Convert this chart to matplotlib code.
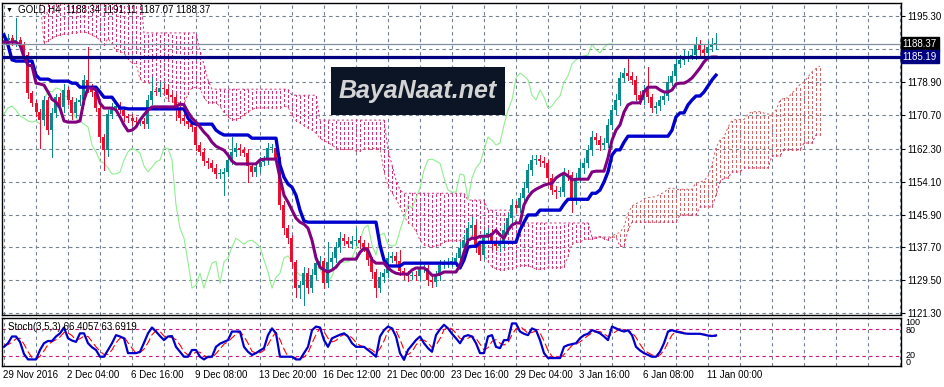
import matplotlib
matplotlib.use("Agg")
import matplotlib.pyplot as plt
import matplotlib.transforms as mtransforms
from matplotlib.patches import Rectangle
import numpy as np

plt.rcParams['font.family'] = ['Liberation Sans', 'DejaVu Sans']

# ---- candles (GOLD H4) ----
first_open = 1189.0
close = [
    1189.3, 1189.8, 1188.8, 1189.3, 1188.3, 1185.6, 1176.1, 1173.6, 1171.4, 1169.4,
    1174.4, 1166.9, 1171.2, 1175.1, 1172.7, 1176.9, 1174.4, 1171.2, 1173.9, 1174.4,
    1179.4, 1177.4, 1176.4, 1172.4, 1165.2, 1161.9,
    1170.9, 1172.4, 1172.9, 1171.9, 1170.4, 1169.9, 1169.2, 1168.9, 1169.2, 1168.4,
    1174.4, 1176.6, 1176.4, 1177.4, 1177.1, 1175.6, 1175.1, 1171.9, 1169.9, 1169.2,
    1168.4, 1167.7, 1163.2, 1161.5, 1159.2, 1158.7, 1157.5, 1156.0, 1156.0, 1156.5,
    1159.5, 1161.5, 1162.4, 1161.9, 1161.2, 1158.0, 1156.5, 1157.7, 1159.0, 1159.5,
    1162.4, 1162.4, 1159.5, 1148.3, 1142.5, 1140.0, 1134.1, 1127.6, 1128.3, 1131.3,
    1127.6, 1130.8, 1133.8, 1134.3, 1128.8, 1134.1, 1135.1, 1137.8, 1140.0, 1139.3,
    1138.5, 1139.3, 1139.5, 1138.8, 1137.8, 1134.6, 1131.6, 1127.6, 1130.3, 1131.3,
    1135.1, 1135.6, 1134.3, 1131.8, 1130.8, 1130.6, 1130.8, 1130.6, 1132.6, 1132.6,
    1129.6, 1129.1, 1130.6, 1133.3, 1133.8, 1134.1, 1134.1, 1135.1, 1137.5, 1139.5,
    1142.5, 1143.3, 1138.3, 1135.8, 1140.8, 1141.3, 1138.5, 1138.0, 1138.5, 1142.0,
    1145.0, 1148.3, 1147.5, 1150.0, 1152.5, 1157.0, 1159.5, 1159.7, 1159.2, 1158.7,
    1155.0, 1152.0, 1151.5, 1151.5, 1156.0, 1155.7, 1149.5, 1155.0, 1157.5, 1158.7,
    1161.9, 1165.2, 1164.4, 1163.2, 1163.7, 1168.2, 1171.9, 1174.4, 1179.9, 1181.1,
    1180.4, 1179.4, 1175.6, 1174.4, 1176.9, 1175.1, 1172.4, 1172.9, 1174.4, 1175.4,
    1178.9, 1180.4, 1183.4, 1184.4, 1185.1, 1185.4, 1185.6, 1188.3, 1186.9, 1186.1,
    1187.6, 1188.3, 1188.37,
]
upper_wick = [
    0.8, 1.0, 0.7, 5.5, 0.9, 0.6, 0.8, 0.5, 0.9, 0.7,
    1.0, 0.8, 1.2, 0.9, 1.1, 1.5, 0.8, 0.7, 1.0, 1.3,
    1.2, 8.2, 1.0, 0.8, 0.9, 0.7, 1.1, 1.3, 0.9, 1.0,
    0.8, 0.6, 1.0, 0.9, 0.7, 0.8, 1.2, 3.5, 1.0, 1.4,
    0.9, 1.1, 0.8, 0.7, 0.9, 1.0, 0.8, 0.6, 0.9, 0.7,
    1.0, 0.8, 0.7, 0.9, 1.2, 1.0, 1.5, 3.7, 1.3, 1.0,
    0.9, 1.1, 0.8, 1.0, 1.2, 0.9, 1.4, 1.0, 0.8, 0.6,
    0.9, 0.7, 0.8, 0.6, 1.0, 1.5, 1.2, 1.6, 1.1, 1.3,
    0.9, 5.0, 1.4, 1.2, 1.5, 1.0, 0.9, 1.3, 3.0, 1.0,
    0.8, 0.9, 0.7, 0.8, 1.2, 1.0, 1.4, 1.1, 0.9, 2.7,
    0.8, 1.0, 0.9, 1.1, 1.3, 0.8, 0.7, 1.0, 1.2, 1.4,
    0.9, 1.0, 1.2, 1.3, 1.5, 1.4, 1.6, 2.0, 0.9, 1.0,
    1.3, 1.2, 0.9, 1.0, 1.1, 1.4, 1.3, 1.5, 1.0, 1.2,
    1.4, 1.6, 1.2, 1.0, 1.1, 0.9, 0.8, 1.0, 0.9, 1.2,
    1.4, 1.1, 0.9, 1.3, 1.5, 1.2, 1.4, 1.6, 1.0, 1.1,
    1.2, 1.5, 1.3, 1.4, 1.6, 1.2, 3.8, 1.0, 0.9, 1.1,
    1.2, 5.7, 0.9, 1.0, 1.1, 1.3, 1.4, 1.2, 1.5, 1.3,
    1.7, 1.2, 1.4, 1.8, 1.0, 1.2, 1.5, 1.6, 2.7,
]
lower_wick = [
    0.7, 0.9, 0.8, 1.0, 0.6, 0.9, 1.2, 0.8, 1.0, 7.0,
    1.1, 0.9, 6.7, 1.0, 0.8, 1.2, 0.9, 1.4, 1.0, 0.8,
    1.0, 0.9, 1.1, 0.8, 1.3, 4.9, 1.5, 1.0, 0.9, 0.8,
    1.1, 0.9, 1.0, 1.2, 0.8, 1.0, 0.9, 1.1, 0.8, 1.0,
    0.9, 0.8, 1.0, 2.5, 1.2, 0.9, 1.0, 1.1, 1.3, 0.9,
    1.0, 1.2, 0.8, 1.0, 0.9, 5.3, 1.1, 0.9, 1.0, 1.2,
    0.8, 4.0, 1.0, 0.9, 1.1, 0.8, 1.0, 0.9, 1.2, 1.0,
    1.5, 1.3, 1.6, 2.2, 2.5, 4.9, 1.2, 1.0, 0.9, 1.1,
    1.3, 1.0, 1.2, 0.9, 1.1, 1.0, 0.8, 0.9, 1.0, 1.2,
    1.0, 1.3, 1.5, 2.2, 1.0, 1.2, 0.9, 1.0, 1.1, 0.9,
    1.0, 1.2, 0.8, 1.0, 0.9, 1.1, 1.3, 1.2, 0.9, 1.0,
    0.8, 1.0, 0.9, 1.1, 1.0, 1.2, 1.0, 1.4, 1.6, 1.3,
    1.0, 0.9, 1.1, 1.0, 1.2, 0.8, 1.0, 0.9, 1.1, 1.0,
    0.9, 1.0, 1.2, 1.1, 1.3, 1.0, 1.2, 1.1, 1.4, 1.0,
    0.9, 1.1, 3.0, 1.0, 0.9, 1.2, 1.0, 1.1, 0.9, 1.3,
    1.0, 0.9, 1.1, 1.0, 1.2, 0.9, 1.0, 1.1, 1.3, 1.0,
    0.9, 1.1, 1.0, 1.2, 0.9, 1.0, 1.1, 0.8, 1.0, 0.9,
    1.0, 1.1, 0.9, 1.0, 1.2, 0.9, 1.0, 1.1, 1.3,
]

# ---- Ichimoku ----
tenkan = [
    1188.8, 1188.8, 1188.8, 1188.8, 1188.1, 1185.1, 1183.1, 1182.9, 1178.6, 1178.4,
    1178.1, 1176.4, 1174.6, 1173.9, 1172.4, 1169.2, 1168.9, 1168.9, 1168.9, 1169.2,
    1174.4, 1177.4, 1177.4, 1176.9, 1173.6, 1172.4, 1172.4, 1172.4, 1171.9, 1170.2,
    1168.2, 1166.7, 1166.9, 1167.7, 1169.4, 1170.7, 1171.9, 1172.7, 1172.7, 1172.7,
    1172.7, 1172.7, 1172.7, 1172.7, 1173.4, 1173.2, 1171.4, 1169.9, 1168.9, 1167.7,
    1166.4, 1165.4, 1163.9, 1162.9, 1162.4, 1161.9, 1160.7, 1159.2, 1158.5, 1158.5,
    1158.5, 1158.5, 1158.5, 1158.5, 1159.5, 1159.7, 1159.7, 1159.7, 1159.7, 1155.0,
    1150.7, 1149.0, 1147.0, 1145.0, 1144.0, 1143.5, 1142.5, 1139.5, 1135.1, 1132.8,
    1132.1, 1131.6, 1132.1, 1132.8, 1134.1, 1134.8, 1134.8, 1134.8, 1134.8, 1136.5,
    1137.5, 1137.0, 1134.6, 1133.8, 1133.8, 1133.8, 1132.6, 1131.8, 1131.3, 1131.1,
    1131.1, 1131.1, 1132.1, 1132.6, 1132.6, 1132.6, 1131.8, 1130.8, 1130.8, 1131.1,
    1131.6, 1131.6, 1131.6, 1131.6, 1133.3, 1136.5, 1139.5, 1140.0, 1140.0, 1140.5,
    1140.5, 1140.5, 1141.0, 1142.0, 1140.8, 1140.0, 1142.0, 1143.3, 1143.8, 1143.8,
    1148.3, 1150.2, 1151.5, 1152.2, 1152.7, 1153.2, 1153.5, 1153.7, 1155.0, 1155.7,
    1156.2, 1155.5, 1154.5, 1154.7, 1154.7, 1154.7, 1154.7, 1156.5, 1156.7, 1156.7,
    1156.7, 1160.0, 1164.4, 1166.9, 1168.2, 1171.4, 1173.2, 1173.7, 1173.7, 1173.7,
    1176.4, 1177.6, 1177.6, 1177.6, 1176.9, 1176.4, 1176.4, 1176.9, 1178.4, 1178.6,
    1178.6, 1179.1, 1179.9, 1181.1, 1182.4, 1183.9, 1184.9, 1185.1, 1185.1,
]
kijun = ([1190.6, 1188.1, 1184.4] + [1184.1] * 5 + [1180.6] + [1179.6] * 3
         + [1179.1] * 5 + [1178.6] * 2 + [1177.6] * 5 + [1176.4] + [1175.1] * 3
         + [1173.7] + [1172.4] * 2 + [1172.2] * 15 + [1169.9, 1168.7] + [1168.4] * 5
         + [1166.9, 1166.2] + [1165.7] * 7 + [1164.9] * 7
         + [1158.2, 1155.2, 1153.5, 1152.7, 1150.7, 1147.0, 1144.3] + [1144.0] * 18
         + [1138.3, 1134.6] + [1133.1] * 4 + [1133.8] * 14
         + [1132.6, 1134.6, 1137.8, 1138.0, 1138.0] + [1139.0] * 10 + [1142.0, 1144.0]
         + [1145.8] * 3 + [1147.0] * 6 + [1148.5] + [1149.7] * 6 + [1151.2] * 2
         + [1152.0, 1154.0, 1156.5, 1160.7, 1162.0, 1162.0, 1163.9] + [1165.4] * 11
         + [1166.9, 1170.2, 1171.2, 1171.2, 1173.2, 1174.4, 1175.4, 1175.4, 1176.4,
            1177.9, 1179.4, 1180.6])
senkou_a_lead = [1201.2, 1201.0, 1200.8, 1200.6, 1200.5, 1200.3, 1200.2, 1200.0, 1199.8, 1199.6,
                 1188.6, 1189.1, 1189.8, 1190.3, 1190.6, 1190.8, 1190.8, 1191.1, 1191.1, 1191.3,
                 1191.3, 1191.1, 1190.6, 1190.1, 1189.3, 1188.1]
senkou_b = ([1201.5] * 35 + [1191.1] * 14 + [1186.9, 1183.1, 1179.4] + [1177.1] * 20
            + [1175.6] * 7 + [1169.4] * 17 + [1162.0, 1158.2, 1154.5, 1152.0] + [1151.2] * 16
            + [1149.5] * 5 + [1147.0] * 7 + [1143.8] * 19 + [1140.3] * 7 + [1138.0] * 2
            + [1142.0] + [1144.0] * 12 + [1145.8] * 5 + [1147.8] * 4
            + [1150.7, 1154.0, 1155.0, 1155.0] + [1156.5] * 3 + [1157.5] * 7
            + [1160.5] * 3 + [1162.0] * 5 + [1163.7] * 3 + [1165.7] * 2)

# ---- Stochastic (3,5,3) ----
stoch_k = [
    41, 49, 64, 64, 52, 25, 13, 13, 13, 34,
    49, 54, 54, 64, 71, 84, 60, 55, 52, 71,
    71, 49, 40, 34, 19, 19, 34, 49, 67, 64,
    60, 27, 27, 27, 30, 50, 71, 84, 75, 65,
    56, 64, 65, 41, 30, 19, 19, 34, 34, 19,
    13, 19, 19, 41, 48, 52, 56, 75, 75, 75,
    41, 30, 23, 27, 33, 38, 67, 82, 71, 19,
    19, 19, 19, 13, 13, 27, 41, 78, 86, 84,
    56, 41, 60, 64, 68, 71, 64, 49, 41, 41,
    41, 34, 27, 19, 64, 78, 86, 82, 64, 27,
    12, 34, 45, 56, 64, 49, 38, 30, 67, 80,
    90, 82, 70, 60, 49, 64, 67, 64, 49, 27,
    27, 64, 67, 41, 38, 56, 56, 93, 93, 75,
    70, 67, 82, 78, 56, 27, 16, 16, 16, 16,
    41, 45, 47, 49, 60, 67, 70, 78, 75, 71,
    64, 56, 86, 82, 78, 75, 78, 67, 41, 33,
    27, 23, 19, 19, 30, 49, 75, 78, 75, 73,
    71, 70, 70, 70, 70, 68, 66, 65, 66.4,
]
stoch_d = [
    45, 46, 51, 59, 60, 47, 30, 17, 13, 20,
    32, 46, 52, 57, 63, 73, 72, 66, 56, 59,
    65, 64, 53, 41, 31, 24, 24, 34, 50, 60,
    64, 50, 38, 27, 28, 36, 50, 68, 77, 75,
    65, 62, 62, 57, 45, 30, 23, 24, 29, 29,
    22, 17, 17, 26, 36, 47, 52, 61, 69, 75,
    64, 49, 31, 27, 28, 33, 46, 62, 73, 57,
    36, 19, 19, 17, 15, 18, 27, 49, 68, 83,
    75, 60, 52, 55, 64, 68, 68, 61, 51, 44,
    41, 39, 34, 27, 37, 54, 76, 82, 77, 58,
    34, 24, 30, 45, 55, 56, 50, 39, 45, 59,
    79, 84, 81, 71, 60, 58, 60, 65, 60, 47,
    34, 39, 53, 57, 49, 45, 50, 68, 81, 87,
    79, 71, 73, 76, 72, 54, 33, 20, 16, 16,
    24, 34, 44, 47, 52, 59, 66, 72, 74, 75,
    70, 64, 69, 75, 82, 78, 77, 73, 62, 47,
    34, 28, 23, 20, 23, 33, 51, 67, 76, 75,
    73, 71, 70, 70, 70, 69, 68, 66, 63.7,
]

date_labels = ["29 Nov 2016", "2 Dec 04:00", "6 Dec 16:00", "9 Dec 08:00", "13 Dec 20:00",
               "16 Dec 12:00", "21 Dec 00:00", "23 Dec 16:00", "29 Dec 04:00",
               "3 Jan 16:00", "6 Jan 08:00", "11 Jan 00:00"]
price_ticks = [1195.30, 1187.10, 1178.90, 1170.70, 1162.30, 1154.10, 1145.90, 1137.70, 1129.50, 1121.30]
bid_price = 1188.37
level_price = 1185.19

BULL = '#0a8a8a'
BEAR = '#e8102e'
SA_COL = '#d26464'
SB_COL = '#d0307c'
GRID = '#738090'
DOT = (0, (2.2, 2.4))

bars = np.arange(len(close))
c = np.array(close)
o = np.array([first_open] + close[:-1])
hi = np.maximum(o, c) + np.array(upper_wick)
lo = np.minimum(o, c) - np.array(lower_wick)
col = np.where(c >= o, BULL, BEAR)

sa = np.array(senkou_a_lead + [(t + k) / 2 for t, k in zip(tenkan, kijun)])
sb = np.array(senkou_b)
cx = np.arange(len(sa))

W, H = 945, 387
fig = plt.figure(figsize=(W / 100, H / 100), dpi=100)
ax = fig.add_axes([2 / W, 1 - 315 / H, 899 / W, 312 / H])
ax2 = fig.add_axes([2 / W, 1 - 366 / H, 899 / W, 48 / H])

# ---- main window ----
ax.set_xlim(-0.5, 224.25)
ax.set_ylim(1120.9, 1198.55)

# cloud as dotted hatching
kumo_col = np.where(sa >= sb, SA_COL, SB_COL)
ax.vlines(cx, np.minimum(sa, sb), np.maximum(sa, sb), colors=kumo_col,
          linestyles=DOT, lw=0.72, zorder=1, antialiased=False)
ax.plot(cx, sa, color=SA_COL, ls=DOT, lw=0.72, zorder=1.1)
ax.plot(cx, sb, color=SB_COL, ls=DOT, lw=0.72, zorder=1.1)

# chikou span
ax.plot(bars[:len(close) - 26], close[26:], color='#90ee90', lw=0.8, zorder=2)

# candles
ax.vlines(bars, lo, hi, colors=col, lw=0.72, zorder=3, antialiased=False)
ax.bar(bars, np.maximum(np.abs(c - o), 0.2), bottom=np.minimum(o, c), width=0.75,
       color=col, linewidth=0, zorder=3.1, antialiased=False)

ax.plot(bars, kijun, color='#0000cd', lw=2.4, zorder=4, solid_joinstyle='round')
ax.plot(bars, tenkan, color='#800080', lw=2.2, zorder=4.2, solid_joinstyle='round')

ax.axhline(bid_price, color='#8090a0', lw=0.9, zorder=4.5)
ax.axhline(level_price, color='#000080', lw=2.3, zorder=5)

ax.set_xticks(np.arange(0, 225, 8))
ax.set_xticklabels([])
ax.tick_params(axis='x', length=0)
ax.yaxis.tick_right()
ax.set_yticks(price_ticks)
# the 1187.10 label sits under the bid-price box, as in the terminal
ax.set_yticklabels(["" if abs(p - bid_price) < 2 else f"{p:.2f}" for p in price_ticks])
ax.tick_params(axis='y', length=3, width=0.8, pad=1.5, labelsize=7, colors='black')
ax.grid(True, color=GRID, ls=(0, (3, 3)), lw=0.8, zorder=0)
ax.set_axisbelow(True)
for s in ax.spines.values():
    s.set_linewidth(1.0)

trans = mtransforms.blended_transform_factory(ax.transAxes, ax.transData)
ax.text(1.002, bid_price, f"{bid_price:.2f}", transform=trans, ha='left', va='center',
        fontsize=7, color='white', zorder=10, clip_on=False,
        bbox=dict(boxstyle='square,pad=0.18', fc='black', ec='black'))
ax.text(1.002, level_price, f"{level_price:.2f}", transform=trans, ha='left', va='center',
        fontsize=7, color='white', zorder=10, clip_on=False,
        bbox=dict(boxstyle='square,pad=0.18', fc='#000080', ec='#000080'))

# ---- stochastic window ----
ax2.set_xlim(-0.5, 224.25)
ax2.set_ylim(-1.6, 105.1)
ax2.plot(bars, stoch_d, color='#ff0000', lw=0.8, ls=(0, (7, 3)), zorder=2)
ax2.plot(bars, stoch_k, color='#0000cd', lw=1.6, zorder=3)
for lv in (20, 80):
    ax2.axhline(lv, color='#c71585', lw=0.8, ls=(0, (3, 3)), zorder=1)
ax2.set_xticks(np.arange(0, 225, 8))
ax2.set_xticklabels([])
ax2.set_yticks([])
ax2.tick_params(axis='x', length=0)
ax2.set_xticks(np.arange(0, 177, 16), minor=True)
ax2.tick_params(axis='x', which='minor', length=3, width=0.8, direction='out')
ax2.grid(True, axis='x', color=GRID, ls=(0, (3, 3)), lw=0.8, zorder=0)
ax2.set_axisbelow(True)
for s in ax2.spines.values():
    s.set_linewidth(1.0)

trans2 = mtransforms.blended_transform_factory(ax2.transAxes, ax2.transData)
for txt, v in (("100", 95), ("80", 78), ("20", 22), ("0", 6)):
    ax2.text(1.005, v, txt, transform=trans2, ha='left', va='center', fontsize=6.5,
             clip_on=False)

trans3 = mtransforms.blended_transform_factory(ax2.transData, ax2.transAxes)
for i, lab in enumerate(date_labels):
    ax2.text(i * 16 - 0.3, -0.08, lab, transform=trans3, ha='left', va='top',
             fontsize=7, clip_on=False)

# ---- texts and logo ----
fig.text(6 / W, 1 - 10 / H, "\u25bc", fontsize=5, va='center', ha='left')
fig.text(18 / W, 1 - 10 / H, "GOLD,H4  1188.34 1191.11 1187.07 1188.37",
         fontsize=7, va='center', ha='left')
fig.text(8 / W, 1 - 327 / H, "Stoch(3,5,3) 66.4057 63.6919", fontsize=7,
         va='center', ha='left', zorder=10)

fig.add_artist(Rectangle((331 / W, 1 - 115 / H), 174 / W, 48 / H,
                         transform=fig.transFigure, fc='#0b1526', ec='none', zorder=8))
fig.text(418 / W, 1 - 91 / H, "BayaNaat.net", fontsize=18, fontweight='bold',
         style='italic', color='#d4d4d4', ha='center', va='center', zorder=9)

fig.savefig("out.png", dpi=100, facecolor='white')
